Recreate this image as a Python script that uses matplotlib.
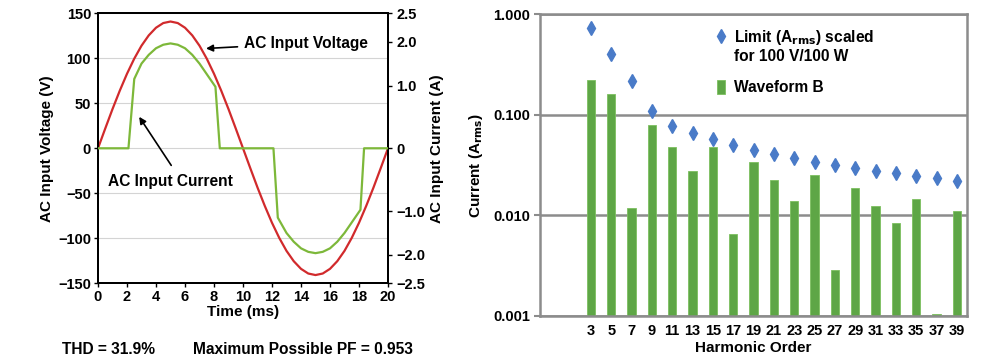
import numpy as np
import matplotlib
matplotlib.use("Agg")
import matplotlib.pyplot as plt
from matplotlib.lines import Line2D

plt.rcParams['font.family'] = ['Liberation Sans', 'DejaVu Sans']
plt.rcParams['font.weight'] = 'bold'
plt.rcParams['axes.labelweight'] = 'bold'
plt.rcParams['font.size'] = 10

# --- left panel data ---
time_ms = [0, 0.5, 1, 1.5, 2, 2.5, 3, 3.5, 4, 4.5, 5, 5.5, 6, 6.5, 7, 7.5, 8, 8.5, 9, 9.5, 10,
           10.5, 11, 11.5, 12, 12.5, 13, 13.5, 14, 14.5, 15, 15.5, 16, 16.5, 17, 17.5, 18, 18.5, 19, 19.5, 20]
voltage_v = [0, 22, 43.6, 64, 82.9, 99.7, 114.1, 125.6, 134.1, 139.3, 141, 139.3, 134.1, 125.6, 114.1,
             99.7, 82.9, 64, 43.6, 22, 0, -22, -43.6, -64, -82.9, -99.7, -114.1, -125.6, -134.1, -139.3,
             -141, -139.3, -134.1, -125.6, -114.1, -99.7, -82.9, -64, -43.6, -22, 0]

cur_time_ms = [0, 2.1, 2.5, 3, 3.5, 4, 4.5, 5, 5.5, 6, 6.5, 7, 7.5, 8.1, 8.4,
               12.1, 12.4, 13, 13.5, 14, 14.5, 15, 15.5, 16, 16.5, 17, 17.5, 18.1, 18.35, 20]
current_a = [0, 0, 1.15, 1.5, 1.7, 1.85, 1.93, 1.96, 1.93, 1.85, 1.7, 1.5, 1.26, 0.98, 0,
             0, -1.15, -1.5, -1.7, -1.85, -1.93, -1.96, -1.93, -1.85, -1.7, -1.5, -1.26, -0.98, 0, 0]

# right axis of the left panel is not linear in the original
cur_ticks = [-2.5, -2.0, -1.0, 0, 1.0, 2.0, 2.5]
cur_tick_pos = [-150, -118.6, -69.8, 0, 69.8, 118.6, 150]

# --- right panel data ---
orders = [1, 3, 5, 7, 9, 11, 13, 15, 17, 19, 21, 23, 25, 27, 29, 31, 33, 35, 37, 39]
waveform_b = [np.nan, 0.221, 0.160, 0.0119, 0.0789, 0.048, 0.0274, 0.048, 0.00653, 0.0339, 0.0226,
              0.0140, 0.0254, 0.00284, 0.0185, 0.0124, 0.00845, 0.0146, 0.00104, 0.0111]
limit = [np.nan, 0.721, 0.406, 0.216, 0.110, 0.0766, 0.0653, 0.0569, 0.0504, 0.0449, 0.0406,
         0.0372, 0.0341, 0.0318, 0.0298, 0.0278, 0.0261, 0.0246, 0.0233, 0.0221]

red = '#d12a2c'
lgreen = '#7db83a'
bgreen = '#5ea646'
blue = '#4a7bc8'

fig = plt.figure(figsize=(10, 3.63), dpi=100)

# ---------------- left panel ----------------
ax = fig.add_axes([0.098, 0.220, 0.290, 0.743])
ax.plot(time_ms, voltage_v, color=red, lw=1.6, zorder=3)
ax.set_xlim(0, 20)
ax.set_ylim(-150, 150)
ax.set_xticks(range(0, 21, 2))
ax.set_yticks([-150, -100, -50, 0, 50, 100, 150])
ax.set_yticklabels(['\u2212150', '\u2212100', '\u221250', '0', '50', '100', '150'])
ax.grid(axis='y', color='#d4d4d4', lw=0.8)
ax.set_axisbelow(True)
for s in ax.spines.values():
    s.set_linewidth(1.4)
ax.tick_params(length=3, width=1, pad=2, labelsize=10.5)
ax.set_xlabel('Time (ms)', labelpad=1, fontsize=11)
ax.set_ylabel('AC Input Voltage (V)', labelpad=3, fontsize=11)

ax2 = ax.twinx()
fwd = lambda a: np.interp(a, cur_ticks, cur_tick_pos)
inv = lambda v: np.interp(v, cur_tick_pos, cur_ticks)
ax2.set_yscale('function', functions=(fwd, inv))
ax2.plot(cur_time_ms, current_a, color=lgreen, lw=1.6, zorder=3)
ax2.set_ylim(-2.5, 2.5)
ax2.set_yticks(cur_ticks)
ax2.set_yticklabels(['\u22122.5', '\u22122.0', '\u22121.0', '0', '1.0', '2.0', '2.5'])
ax2.yaxis.set_minor_locator(matplotlib.ticker.NullLocator())
ax2.tick_params(length=3, width=1, pad=3, labelsize=10.5)
ax2.set_ylabel('AC Input Current (A)', labelpad=3, fontsize=11)
for s in ax2.spines.values():
    s.set_linewidth(1.4)

ax.annotate('AC Input Voltage', xy=(7.45, 111), xytext=(10.1, 117),
            va='center', ha='left', fontsize=11.2,
            arrowprops=dict(arrowstyle='-|>', color='black', lw=1.2, shrinkA=3, shrinkB=0,
                            mutation_scale=10))
ax.annotate('', xy=(2.84, 35), xytext=(5.05, -19),
            arrowprops=dict(arrowstyle='-|>', color='black', lw=1.2, shrinkA=0, shrinkB=0,
                            mutation_scale=10))
ax.text(0.7, -37, 'AC Input Current', va='center', ha='left', fontsize=11.2)

fig.text(0.062, 0.037, 'THD = 31.9%', ha='left', va='center', fontsize=11.2)
fig.text(0.193, 0.037, 'Maximum Possible PF = 0.953', ha='left', va='center', fontsize=11.2)

# ---------------- right panel ----------------
bx = fig.add_axes([0.540, 0.1295, 0.427, 0.8315])
pos = np.arange(len(orders))
bars = bx.bar(pos, waveform_b, width=0.42, color=bgreen, edgecolor='#7cc05f', lw=0.6, zorder=2)
pts, = bx.plot(pos, limit, linestyle='none', marker='d', markersize=7.5, color=blue,
               markeredgecolor=blue, zorder=3)
bx.set_yscale('log')
bx.set_ylim(0.001, 1.0)
bx.set_xlim(-1.5, len(orders) - 0.5)
bx.set_xticks(pos[1:])
bx.set_xticklabels([str(o) for o in orders[1:]])
bx.set_yticks([0.001, 0.01, 0.1, 1.0])
bx.set_yticklabels(['0.001', '0.010', '0.100', '1.000'])
bx.yaxis.set_minor_locator(matplotlib.ticker.NullLocator())
bx.grid(axis='y', which='major', color='#8c8c8c', lw=1.8, zorder=1)
bx.set_axisbelow(True)
for s in bx.spines.values():
    s.set_color('#8c8c8c')
    s.set_linewidth(1.8)
bx.tick_params(axis='x', length=0, pad=6, labelsize=10.5)
bx.tick_params(axis='y', length=4, width=1.5, color='#8c8c8c', pad=3, labelsize=10.5)
bx.set_xlabel('Harmonic Order', labelpad=2, fontsize=11)
bx.set_ylabel('Current (A$_\\mathbf{rms}$)', labelpad=6, fontsize=11)

blank = Line2D([], [], linestyle='none')
leg1 = bx.legend([pts, blank], ['Limit (A$_\\mathbf{rms}$) scaled', 'for 100 V/100 W'],
                 loc='upper left', bbox_to_anchor=(0.40, 0.975), frameon=False,
                 fontsize=11.2, handlelength=0.5, handletextpad=0.6, labelspacing=0.15,
                 borderaxespad=0)
bx.add_artist(leg1)
bx.legend([bars], ['Waveform B'], loc='upper left', bbox_to_anchor=(0.40, 0.803),
          frameon=False, fontsize=11.2, handlelength=0.5, handleheight=1.0,
          handletextpad=0.6, borderaxespad=0)

fig.savefig('out.png', dpi=100)
